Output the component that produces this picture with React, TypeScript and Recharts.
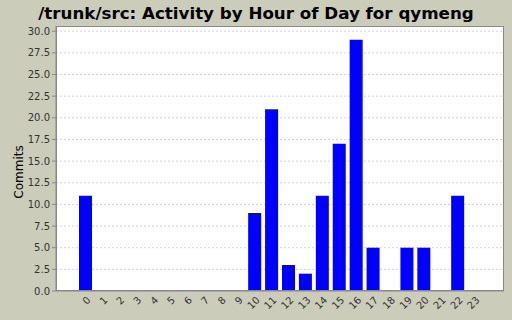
import React from 'react';
import { BarChart, Bar, XAxis, YAxis, CartesianGrid } from 'recharts';

const hours = ['0','1','2','3','4','5','6','7','8','9','10','11','12','13','14','15','16','17','18','19','20','21','22','23'];
const commits = [11, 0, 0, 0, 0, 0, 0, 0, 0, 0, 9, 21, 3, 2, 11, 17, 29, 5, 0, 5, 5, 0, 11, 0];
const yTicks = [0, 2.5, 5, 7.5, 10, 12.5, 15, 17.5, 20, 22.5, 25, 27.5, 30];

const data = hours.map((h, i) => ({ hour: h, commits: commits[i] }));

const BG = '#CCCCBB';
const FONT = '"DejaVu Sans", sans-serif';

const XTick = (props: any) => {
  const { x, y, payload } = props;
  const ax = x + 5.8;
  const ay = y + 9.8;
  return (
    <text
      x={ax}
      y={ay}
      transform={`rotate(-45, ${ax}, ${ay})`}
      textAnchor="end"
      fontSize={10}
      fontFamily={FONT}
      fill="#333"
    >
      {payload.value}
    </text>
  );
};

export default function App() {
  return (
    <div style={{ position: 'absolute', left: 0, top: 0, width: 512, height: 320, background: BG, fontFamily: FONT }}>
      <div
        style={{
          position: 'absolute',
          left: 0,
          top: 1,
          width: 512,
          textAlign: 'center',
          fontWeight: 'bold',
          fontSize: 16.7,
          lineHeight: '24px',
          color: '#000',
          whiteSpace: 'nowrap',
        }}
      >
        /trunk/src: Activity by Hour of Day for qymeng
      </div>
      <div
        style={{
          position: 'absolute',
          left: 19,
          top: 172,
          transform: 'translate(-50%, -50%) rotate(-90deg)',
          fontSize: 12,
          color: '#000',
          whiteSpace: 'nowrap',
        }}
      >
        Commits
      </div>
      <BarChart
        width={512}
        height={320}
        data={data}
        margin={{ top: 26, right: 8, bottom: 0, left: 0 }}
        style={{ position: 'absolute', left: 0, top: 0 }}
      >
        <CartesianGrid
          vertical={false}
          stroke="#d4d4d4"
          strokeDasharray="2 2"
          fill="#ffffff"
          fillOpacity={1}
        />
        <XAxis
          dataKey="hour"
          interval={0}
          padding={{ left: 21, right: 21 }}
          tickLine={false}
          axisLine={{ stroke: '#888' }}
          tickSize={0}
          tickMargin={0}
          tick={<XTick />}
          height={29}
        />
        <YAxis
          width={56}
          domain={[0, 30.6]}
          ticks={yTicks}
          interval={0}
          tickFormatter={(v: number) => v.toFixed(1)}
          tick={{ fontSize: 10, fontFamily: FONT, fill: '#333' }}
          tickSize={4}
          tickMargin={2}
          tickLine={{ stroke: '#888' }}
          axisLine={{ stroke: '#888' }}
        />
        <Bar dataKey="commits" fill="#0000FF" barSize={13} isAnimationActive={false} />
      </BarChart>
      <div
        style={{
          position: 'absolute',
          left: 56,
          top: 26,
          width: 448,
          height: 265,
          border: '1px solid #888',
          boxSizing: 'border-box',
          pointerEvents: 'none',
        }}
      />
    </div>
  );
}
